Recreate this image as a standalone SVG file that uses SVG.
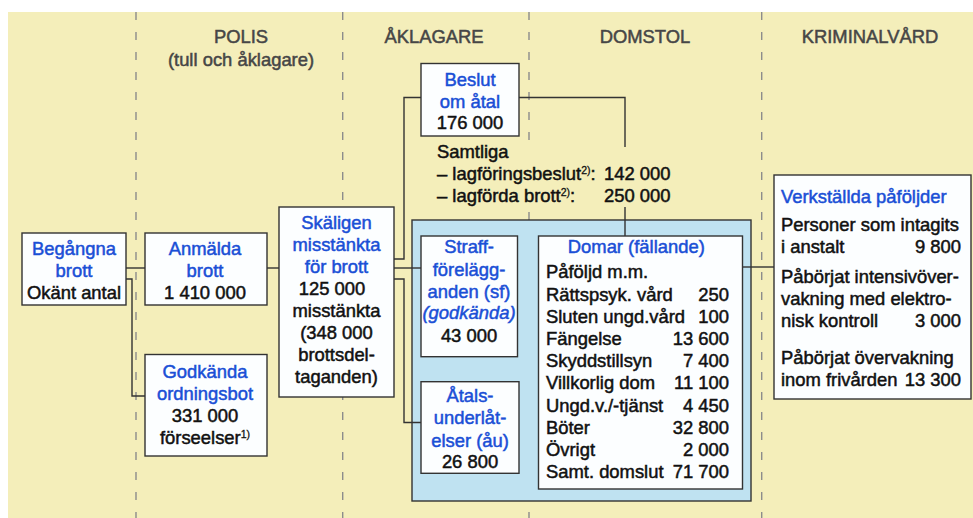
<svg xmlns="http://www.w3.org/2000/svg" width="973" height="518" viewBox="0 0 973 518">
<style>
.t{font-family:"Liberation Sans",Arial,Helvetica,sans-serif;font-size:18.4px;stroke-width:0.5}
.c{text-anchor:middle}
.e{text-anchor:end}
.b{fill:#1a4fd6;stroke:#1a4fd6}
.k{fill:#111;stroke:#111}
.h{fill:#464646;stroke:#464646}
.i{font-style:italic}
.box{fill:#fcfeff;stroke:#333;stroke-width:1.4}
.con{fill:none;stroke:#333;stroke-width:1.4}
.dash{stroke:#8c8c8c;stroke-width:1.4;stroke-dasharray:8 12}
.sup{font-size:10.5px;stroke-width:0.3}
</style>
<rect x="0" y="0" width="973" height="518" fill="#ffffff"/>
<rect x="8" y="12" width="965" height="506" fill="#f4eeba"/>
<g id="lanes">
<line class="dash" x1="136" y1="12" x2="136" y2="518"/>
<line class="dash" x1="342.7" y1="12" x2="342.7" y2="518"/>
<line class="dash" x1="529" y1="12" x2="529" y2="518"/>
<line class="dash" x1="761.7" y1="12" x2="761.7" y2="518"/>
</g>
<g id="headers" class="t c h">
<text x="241" y="43">POLIS</text>
<text x="241" y="66">(tull och åklagare)</text>
<text x="434" y="43">ÅKLAGARE</text>
<text x="645" y="43">DOMSTOL</text>
<text x="870" y="43">KRIMINALVÅRD</text>
</g>
<rect id="court-area" x="412" y="220" width="339" height="281" fill="#bfe2f1" stroke="#333" stroke-width="1.4"/>
<g id="connectors">
<path class="con" d="M126,268 H145"/>
<path class="con" d="M126,279 H132 V396 H145"/>
<path class="con" d="M267,268 H279"/>
<path class="con" d="M394,259 H404 V97.5 H421"/>
<path class="con" d="M394,268 H421"/>
<path class="con" d="M394,279 H404 V422.5 H421"/>
<path class="con" d="M519,97.5 H625 V236"/>
<path class="con" d="M742,267 H774"/>
</g>
<g id="samtliga">
<rect x="430" y="147" width="245" height="60" fill="#f4eeba"/>
<text class="t k" x="437" y="158.3">Samtliga</text>
<text class="t k" x="437" y="180">– lagföringsbeslut<tspan class="sup" dy="-6.5">2)</tspan><tspan dy="6.5">:</tspan></text>
<text class="t k" x="604" y="180">142 000</text>
<text class="t k" x="437" y="202.3">– lagförda brott<tspan class="sup" dy="-6.5">2)</tspan><tspan dy="6.5">:</tspan></text>
<text class="t k" x="604" y="202.3">250 000</text>
</g>
<g id="begangna">
<rect class="box" x="22" y="233" width="104" height="72"/>
<text class="t c b" x="74" y="255">Begångna</text>
<text class="t c b" x="74" y="277">brott</text>
<text class="t c k" x="74" y="299">Okänt antal</text>
</g>
<g id="anmalda">
<rect class="box" x="145" y="233" width="122" height="72"/>
<text class="t c b" x="205" y="255">Anmälda</text>
<text class="t c b" x="205" y="277">brott</text>
<text class="t c k" x="205" y="299">1 410 000</text>
</g>
<g id="godkanda">
<rect class="box" x="145" y="354.5" width="122" height="101.5"/>
<text class="t c b" x="205" y="377.7">Godkända</text>
<text class="t c b" x="205" y="400">ordningsbot</text>
<text class="t c k" x="205" y="422">331 000</text>
<text class="t c k" x="205" y="444">förseelser<tspan class="sup" dy="-6.5">1)</tspan></text>
</g>
<g id="skaligen">
<rect class="box" x="279" y="207" width="115" height="190"/>
<text class="t c b" x="336.5" y="229">Skäligen</text>
<text class="t c b" x="336.5" y="251">misstänkta</text>
<text class="t c b" x="336.5" y="273">för brott</text>
<text class="t c k" x="332" y="295">125 000</text>
<text class="t c k" x="336.5" y="317">misstänkta</text>
<text class="t c k" x="336.5" y="339">(348 000</text>
<text class="t c k" x="336.5" y="361">brottsdel-</text>
<text class="t c k" x="336.5" y="383">taganden)</text>
</g>
<g id="beslut">
<rect class="box" x="421" y="63.5" width="98" height="72.5"/>
<text class="t c b" x="470" y="85.7">Beslut</text>
<text class="t c b" x="470" y="108">om åtal</text>
<text class="t c k" x="470" y="129.3">176 000</text>
</g>
<g id="straff">
<rect class="box" x="421" y="236" width="96.5" height="120.7"/>
<text class="t c b" x="469" y="253.3">Straff-</text>
<text class="t c b" x="469" y="275.7">förelägg-</text>
<text class="t c b" x="469" y="297.7">anden (sf)</text>
<text class="t c b i" x="469" y="319.3">(godkända)</text>
<text class="t c k" x="469" y="341.7">43 000</text>
</g>
<g id="atals">
<rect class="box" x="421" y="381.7" width="98" height="91.6"/>
<text class="t c b" x="470" y="401.7">Åtals-</text>
<text class="t c b" x="470" y="424">underlåt-</text>
<text class="t c b" x="470" y="446.7">elser (åu)</text>
<text class="t c k" x="470" y="468.3">26 800</text>
</g>
<g id="domar">
<rect class="box" x="538.5" y="236" width="204" height="253"/>
<text class="t c b" x="636.3" y="252.7">Domar (fällande)</text>
<g class="t k">
<text x="546" y="278.3">Påföljd m.m.</text>
<text x="546" y="300.7">Rättspsyk. vård</text>
<text class="e" x="729" y="300.7">250</text>
<text x="546" y="322.7">Sluten ungd.vård</text>
<text class="e" x="729" y="322.7">100</text>
<text x="546" y="345">Fängelse</text>
<text class="e" x="729" y="345">13 600</text>
<text x="546" y="367.3">Skyddstillsyn</text>
<text class="e" x="729" y="367.3">7 400</text>
<text x="546" y="389.3">Villkorlig dom</text>
<text class="e" x="729" y="389.3">11 100</text>
<text x="546" y="411.7">Ungd.v./-tjänst</text>
<text class="e" x="729" y="411.7">4 450</text>
<text x="546" y="434">Böter</text>
<text class="e" x="729" y="434">32 800</text>
<text x="546" y="456">Övrigt</text>
<text class="e" x="729" y="456">2 000</text>
<text x="546" y="478.3">Samt. domslut</text>
<text class="e" x="729" y="478.3">71 700</text>
</g>
</g>
<g id="verkstallda">
<rect class="box" x="774" y="175" width="197" height="224"/>
<text class="t b" x="781" y="203.3">Verkställda påföljder</text>
<g class="t k">
<text x="781" y="231">Personer som intagits</text>
<text x="781" y="252.7">i anstalt</text>
<text class="e" x="961" y="252.7">9 800</text>
<text x="781" y="283.3">Påbörjat intensivöver-</text>
<text x="781" y="305">vakning med elektro-</text>
<text x="781" y="326.7">nisk kontroll</text>
<text class="e" x="961" y="326.7">3 000</text>
<text x="781" y="364">Påbörjat övervakning</text>
<text x="781" y="385.7">inom frivården</text>
<text class="e" x="961" y="385.7">13 300</text>
</g>
</g>
</svg>
